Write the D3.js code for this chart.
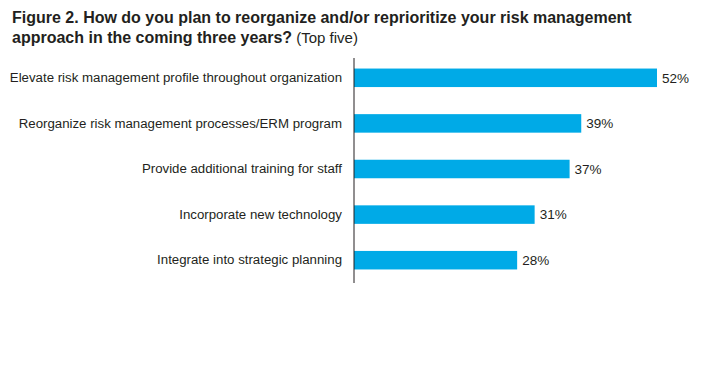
<!DOCTYPE html>
<html>
<head>
<meta charset="UTF-8">
<title>Figure 2</title>
<script type="text/javascript" src="https://cdn.jsdelivr.net/npm/d3@7"></script>
<style>
body { margin: 0; background: #fff; }
text { font-family: "Liberation Sans", Arial, sans-serif; fill: #231f20; }
</style>
</head>
<body>
<script type="text/javascript">
var categories = [
  "Elevate risk management profile throughout organization",
  "Reorganize risk management processes/ERM program",
  "Provide additional training for staff",
  "Incorporate new technology",
  "Integrate into strategic planning"
];
var values = [52, 39, 37, 31, 28];

var w = 721, h = 368;

var svg = d3.select("body")
  .append("svg")
  .attr("width", w)
  .attr("height", h);

// title, two lines
var title = svg.append("text")
  .attr("x", 12)
  .attr("y", 23)
  .attr("font-size", "16px");
title.append("tspan")
  .attr("font-weight", "bold")
  .text("Figure 2. How do you plan to reorganize and/or reprioritize your risk management");
var t2 = svg.append("text")
  .attr("x", 12)
  .attr("y", 43)
  .attr("font-size", "16px");
t2.append("tspan").attr("font-weight", "bold").text("approach in the coming three years?");
t2.append("tspan").attr("font-size", "15px").text(" (Top five)");

var x = d3.scaleLinear().domain([0, 52]).range([354, 657]);
var y = d3.scaleBand().domain(categories).range([55, 283]).paddingInner(0.594).paddingOuter(0.297);

svg.selectAll("rect.bar")
  .data(values)
  .enter()
  .append("rect")
  .attr("class", "bar")
  .attr("x", x(0))
  .attr("y", function(d, i) { return y(categories[i]); })
  .attr("width", function(d) { return x(d) - x(0); })
  .attr("height", y.bandwidth())
  .attr("fill", "#00aae7");

svg.selectAll("text.val")
  .data(values)
  .enter()
  .append("text")
  .attr("class", "val")
  .attr("x", function(d) { return x(d) + 5; })
  .attr("y", function(d, i) { return y(categories[i]) + y.bandwidth() / 2; })
  .attr("dy", "0.35em")
  .attr("font-size", "13.5px")
  .text(function(d) { return d + "%"; });

// category axis
var axis = svg.append("g")
  .attr("transform", "translate(" + x(0) + ",0)")
  .call(d3.axisLeft(y).tickSize(0).tickPadding(12));
axis.select(".domain").attr("stroke", "#231f20").attr("d", "M0,58V283");
axis.selectAll("text")
  .attr("font-size", "13.25px")
  .attr("font-family", "Liberation Sans, Arial, sans-serif")
  .attr("fill", "#231f20");
</script>
</body>
</html>
